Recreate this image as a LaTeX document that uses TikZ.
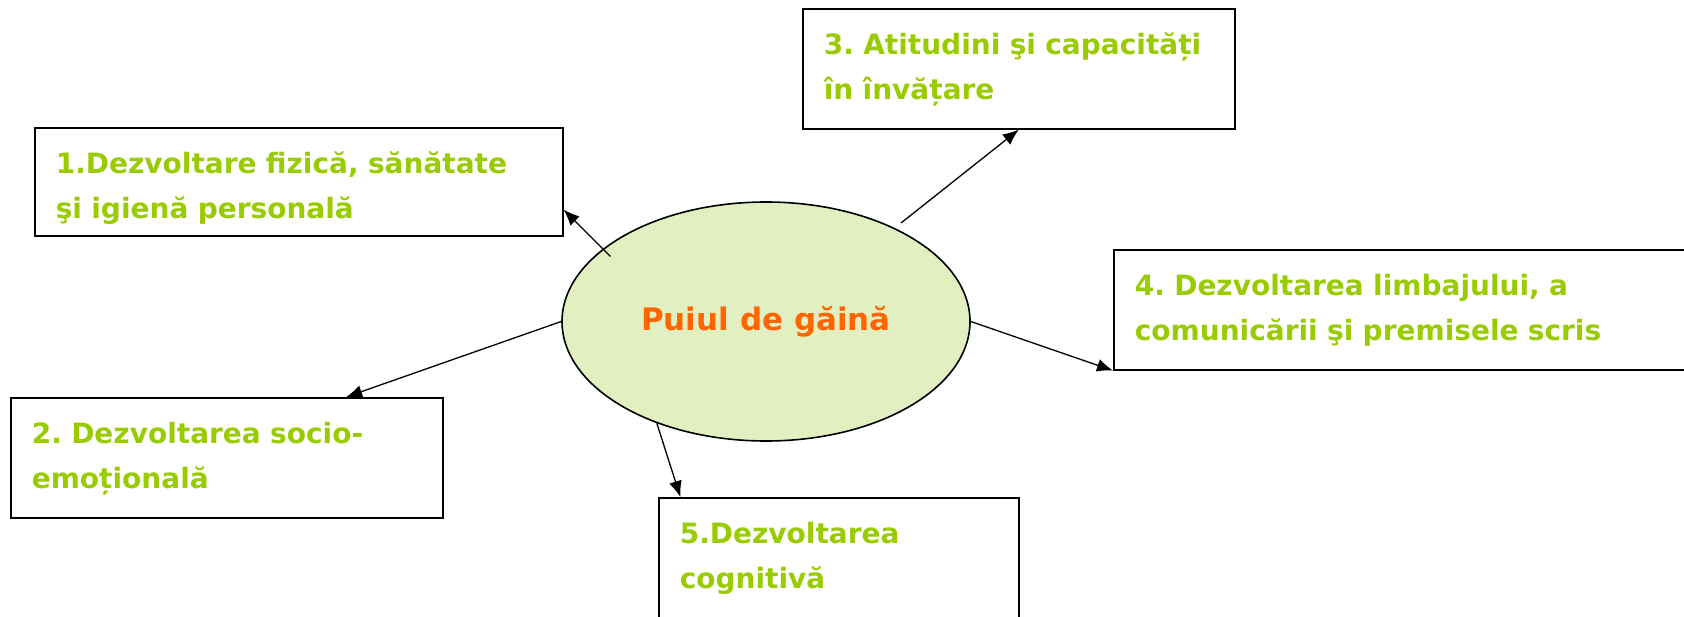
\documentclass[tikz,border=0pt]{standalone}
\usepackage{fontspec}
\setmainfont{DejaVu Sans}
\frenchspacing
\usetikzlibrary{shapes.geometric,arrows.meta}
\definecolor{verdetext}{RGB}{153,204,0}
\definecolor{portocaliu}{RGB}{255,102,0}
\definecolor{fundal}{RGB}{226,239,192}

\tikzset{
  tema/.style={draw, line width=0.8pt, anchor=north west, inner xsep=10.5pt, inner ysep=0pt,
    text height=23pt, text depth=37pt, align=left, text=verdetext,
    font=\fontsize{14}{22.5}\selectfont\bfseries},
  sageata/.style={-{Latex[length=8pt,width=6.5pt]}, line width=0.65pt}
}

\begin{document}
\begin{tikzpicture}[x=0.5pt,y=-0.5pt]
                \useasboundingbox (0,0) rectangle (1684,616);

                \node [draw, ellipse, line width=0.8pt, fill=fundal, minimum width=204pt, minimum height=119.5pt,
                       inner sep=0pt, text=portocaliu, font=\fontsize{15.5}{20}\selectfont\bfseries]
                      (puiul) at (766,321.5) {Puiul de găină};

                \node [tema, text depth=31pt, text width=243pt] (dez1) at (34,127) {1.Dezvoltare fizică, sănătate\\şi igienă personală};
                \node [tema, text width=195pt] (dez2) at (10,397) {2. Dezvoltarea socio-\\emoțională};
                \node [tema, text width=195pt] (dez3) at (802,8) {3. Atitudini şi capacități\\în învățare};
                \node [tema, text width=272.5pt] (dez4) at (1113,249) {4. Dezvoltarea limbajului, a\\comunicării şi premisele scris};
                \node [tema, text width=159pt] (dez5) at (658,497) {5.Dezvoltarea\\cognitivă};

                \draw [sageata, shorten <=-5.4pt] (puiul.156.4) -- (dez1.-6.7);
                \draw [sageata] (puiul.west) -- (dez2.27);
                \draw [sageata, shorten <=4pt] (puiul.36.6) -- (dez3.south);
                \draw [sageata] (puiul.east) -- (dez4.south west);
                \draw [sageata] (puiul.223.2) -- (dez5.159.1);

\end{tikzpicture}
\end{document}
